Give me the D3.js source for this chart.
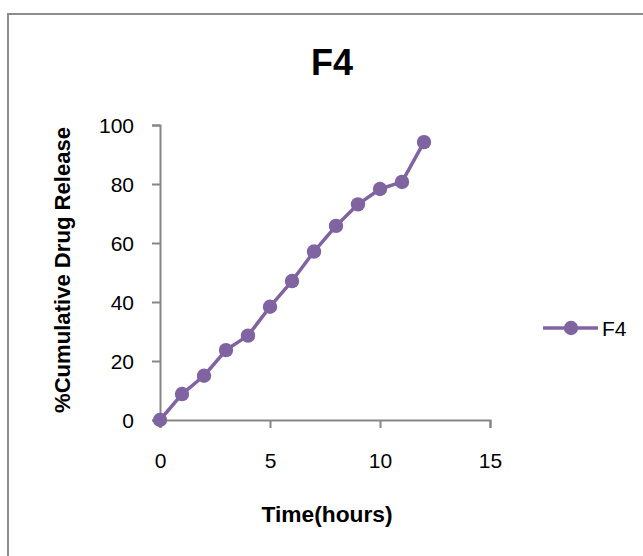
<html>
<head>
    <script src="https://d3js.org/d3.v7.min.js"></script>
    <style>
        body { margin: 0; background: #fff; }
        text { font-family: "Liberation Sans", Arial, sans-serif; fill: #000; }
    </style>
</head>
<body>
    <svg id="chart" width="643" height="556"></svg>
    <script>
        const hours = [0, 1, 2, 3, 4, 5, 6, 7, 8, 9, 10, 11, 12];
        const release = [0, 8.8, 15.0, 23.7, 28.6, 38.4, 47.1, 57.1, 65.8, 73.1, 78.3, 80.7, 94.2];
        const xTicks = [0, 5, 10, 15];
        const yTicks = [0, 20, 40, 60, 80, 100];
        const seriesName = "F4";

        const svg = d3.select('svg#chart');
        const purple = '#8064a2';
        const axisGrey = '#868686';

        // outer chart frame (runs off the right and bottom edges)
        svg.append('rect')
           .attr('x', 8).attr('y', 14)
           .attr('width', 660).attr('height', 580)
           .attr('fill', 'none')
           .attr('stroke', '#8c8c8c')
           .attr('stroke-width', 2);

        const x = d3.scaleLinear().domain([0, 15]).range([160, 490]);
        const y = d3.scaleLinear().domain([0, 100]).range([420, 125]);

        const yAxis = svg.append('g')
            .attr('transform', `translate(${x(0)},0)`)
            .call(d3.axisLeft(y).tickValues(yTicks).tickSize(8).tickPadding(18));
        const xAxis = svg.append('g')
            .attr('transform', `translate(0,${y(0)})`)
            .call(d3.axisBottom(x).tickValues(xTicks).tickSize(8).tickPadding(25));

        [xAxis, yAxis].forEach(g => {
            g.select('.domain').attr('stroke', axisGrey).attr('stroke-width', 2);
            g.selectAll('.tick line').attr('stroke', axisGrey).attr('stroke-width', 2);
            g.selectAll('.tick text')
             .style('font-family', '"Liberation Sans", Arial, sans-serif')
             .style('font-size', '21px')
             .attr('fill', '#000');
        });
        yAxis.selectAll('.tick text').attr('dy', '0.36em');

        const pts = hours.map((h, i) => [h, release[i]]);

        svg.append('path')
           .datum(pts)
           .attr('fill', 'none')
           .attr('stroke', purple)
           .attr('stroke-width', 3.5)
           .attr('stroke-linejoin', 'round')
           .attr('d', d3.line().x(d => x(d[0])).y(d => y(d[1])));

        svg.append('g')
           .selectAll('circle')
           .data(pts)
           .enter().append('circle')
           .attr('cx', d => x(d[0]))
           .attr('cy', d => y(d[1]))
           .attr('r', 7.2)
           .attr('fill', purple);

        // title
        svg.append('text')
           .attr('x', 332).attr('y', 75)
           .attr('text-anchor', 'middle')
           .style('font-size', '36px')
           .style('font-weight', 'bold')
           .text(seriesName);

        // axis titles
        svg.append('text')
           .attr('x', 327).attr('y', 522)
           .attr('text-anchor', 'middle')
           .attr('textLength', 131)
           .attr('lengthAdjust', 'spacingAndGlyphs')
           .style('font-size', '22px')
           .style('font-weight', 'bold')
           .text('Time(hours)');

        svg.append('text')
           .attr('transform', 'translate(70,270) rotate(-90)')
           .attr('text-anchor', 'middle')
           .attr('textLength', 286)
           .attr('lengthAdjust', 'spacingAndGlyphs')
           .style('font-size', '22px')
           .style('font-weight', 'bold')
           .text('%Cumulative Drug Release');

        // legend
        const legend = svg.append('g');
        legend.append('line')
              .attr('x1', 543).attr('x2', 598)
              .attr('y1', 328).attr('y2', 328)
              .attr('stroke', purple).attr('stroke-width', 3.5);
        legend.append('circle')
              .attr('cx', 571).attr('cy', 328).attr('r', 7.2)
              .attr('fill', purple);
        legend.append('text')
              .attr('x', 602).attr('y', 336)
              .style('font-size', '21px')
              .text(seriesName);
    </script>
</body>
</html>
